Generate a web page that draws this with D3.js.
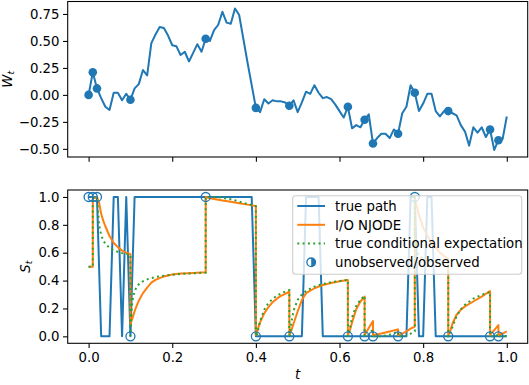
<!DOCTYPE html>
<html><head><meta charset="utf-8">
<script src="https://cdn.jsdelivr.net/npm/d3@7"></script>
<style>body{margin:0;background:#fff} svg{display:block} text{font-family:"DejaVu Sans",sans-serif;fill:#000}</style>
</head><body><svg id="c" width="529" height="385"></svg>
<script>
// ---------- data ----------
const timeStep = 0.01;
const wPath = [0.00, 0.21, 0.06, -0.03, -0.11, -0.14, 0.02, 0.02, -0.05, 0.01,
 -0.045, 0.06, 0.10, 0.23, 0.18, 0.48, 0.56, 0.63, 0.62, 0.55,
 0.46, 0.45, 0.37, 0.40, 0.31, 0.39, 0.47, 0.40, 0.52, 0.50,
 0.60, 0.65, 0.77, 0.67, 0.66, 0.80, 0.74, 0.52, 0.30, 0.09,
 -0.12, -0.16, -0.04, -0.08, -0.05, -0.06, -0.06, -0.07, -0.10, -0.05,
 -0.16, -0.07, 0.03, 0.01, 0.09, 0.02, -0.03, -0.02, -0.04, -0.09,
 -0.15, -0.21, -0.11, -0.31, -0.28, -0.30, -0.23, -0.18, -0.45, -0.40,
 -0.36, -0.36, -0.40, -0.32, -0.36, -0.17, -0.11, 0.09, 0.02, -0.15,
 -0.08, 0.01, 0.01, -0.15, -0.20, -0.15, -0.15, -0.17, -0.19, -0.28,
 -0.34, -0.47, -0.30, -0.35, -0.30, -0.39, -0.32, -0.51, -0.42, -0.41,
 -0.20];
const sPath = [1,1,1,0,0,0,1,1,0,1,
 0,1,1,1,1,1,1,1,1,1,
 1,1,1,1,1,1,1,1,1,1,
 1,1,1,1,1,1,1,1,1,1,
 0,0,0,0,0,0,0,0,0,0,
 0,0,1,1,1,1,0,0,0,0,
 0,0,0,0,0,0,0,0,0,0,
 0,0,0,0,0,0,0,1,1,0,
 0,1,1,0,0,0,0,0,0,0,
 0,0,0,0,0,0,0,0,0,0,
 0];
const obsIndex = [0,1,2,10,28,40,48,62,66,68,74,78,86,96,98];
const predTimes = [0,0.01,0.01,0.02,0.02,0.025,0.03,0.035,0.04,0.05,0.06,0.07,0.08,0.09,0.10,
 0.10,0.1025,0.105,0.11,0.115,0.12,0.13,0.14,0.15,0.16,0.18,0.20,0.22,0.24,0.26,0.28,
 0.28,0.29,0.30,0.32,0.34,0.36,0.38,0.40,
 0.40,0.4025,0.405,0.41,0.42,0.43,0.44,0.45,0.46,0.47,0.48,
 0.48,0.4825,0.485,0.49,0.50,0.51,0.52,0.54,0.56,0.58,0.60,0.62,
 0.62,0.6225,0.625,0.63,0.64,0.65,0.66,
 0.66,0.665,0.67,0.68,
 0.68,0.70,0.72,0.74,
 0.74,0.75,0.76,0.77,0.78,
 0.78,0.7825,0.785,0.79,0.80,0.82,0.84,0.86,
 0.86,0.8625,0.865,0.87,0.88,0.89,0.90,0.92,0.94,0.96,
 0.96,0.97,0.98,
 0.98,0.99,1.00];
const condExp = [0.5,0.5,1,0.98,1,0.80,0.726,0.688,0.664,0.635,0.618,0.606,0.597,0.590,0.584,
 0,0.179,0.258,0.323,0.355,0.373,0.395,0.409,0.418,0.425,0.435,0.442,0.447,0.451,0.454,0.457,
 1,1,1,0.995,0.983,0.967,0.95,0.933,
 0,0.007,0.041,0.109,0.192,0.239,0.269,0.291,0.308,0.321,0.332,
 0,0.036,0.102,0.184,0.262,0.30,0.326,0.357,0.375,0.388,0.397,0.405,
 0,0.014,0.06,0.136,0.218,0.263,0.291,
 0,0.001,0.011,0.052,
 0,0.001,0.012,0.033,
 0,0,0.005,0.019,0.036,
 1,0.655,0.611,0.579,0.556,0.54,0.533,0.528,
 0,0.001,0.017,0.067,0.145,0.193,0.227,0.27,0.298,0.318,
 0,0.001,0.012,
 0,0,0.002];
const njodePred = [0.5,0.5,1,0.99,1,0.96,0.88,0.83,0.79,0.72,0.67,0.64,0.615,0.60,0.59,
 0.09,0.11,0.13,0.18,0.22,0.255,0.31,0.35,0.385,0.405,0.43,0.443,0.45,0.453,0.456,0.46,
 1,0.99,0.985,0.975,0.965,0.955,0.945,0.935,
 0.01,0.03,0.055,0.10,0.165,0.21,0.245,0.27,0.29,0.305,0.32,
 0.01,0.025,0.045,0.09,0.18,0.26,0.31,0.345,0.368,0.383,0.395,0.405,
 0.01,0.025,0.045,0.10,0.195,0.25,0.285,
 0.01,0.035,0.06,0.11,
 0.01,0.02,0.035,0.05,
 0.01,0.02,0.035,0.055,0.07,
 1,0.96,0.93,0.87,0.78,0.67,0.60,0.555,
 0.01,0.02,0.04,0.09,0.155,0.19,0.215,0.25,0.285,0.325,
 0.01,0.045,0.08,
 0.01,0.02,0.035];
const xTicks = [0,0.2,0.4,0.6,0.8,1.0];
const wTicks = [-0.5,-0.25,0,0.25,0.5,0.75];
const sTicks = [0,0.2,0.4,0.6,0.8,1.0];
const legendLabels = ["true path","I/O NJODE","true conditional expectation","unobserved/observed"];

// ---------- styles ----------
const C_BLUE="#1f77b4", C_ORANGE="#ff7f0e", C_GREEN="#2ca02c";
const FS=13.3, TICK=4.67;
const svg=d3.select("#c");

const x=d3.scaleLinear().domain([-0.05,1.05]).range([67.7,527.7]);
const wMin=d3.min(wPath), wMax=d3.max(wPath), wR=wMax-wMin;
const yW=d3.scaleLinear().domain([wMin-0.05*wR,wMax+0.05*wR]).range([157,1.5]);
const yS=d3.scaleLinear().domain([-0.05,1.05]).range([343.3,190]);

const tOf=i=>i*timeStep;

function frame(y){
  const [b,t]=y.range();
  svg.append("rect").attr("x",x.range()[0]).attr("y",t).attr("width",x.range()[1]-x.range()[0]).attr("height",b-t)
    .attr("fill","none").attr("stroke","#000").attr("stroke-width",1.07);
}
function axes(y,yt,yfmt,showX){
  const [b]=y.range();
  const gx=svg.append("g").attr("transform",`translate(0,${b})`)
    .call(d3.axisBottom(x).tickValues(xTicks).tickSize(TICK).tickSizeOuter(0).tickPadding(4.5)
      .tickFormat(showX?d3.format(".1f"):()=>""));
  gx.select(".domain").remove();
  gx.selectAll("line").attr("stroke","#000").attr("stroke-width",1.07);
  gx.selectAll("text").attr("font-size",FS).attr("font-family","DejaVu Sans").attr("fill","#000");
  const gy=svg.append("g").attr("transform",`translate(${x.range()[0]},0)`)
    .call(d3.axisLeft(y).tickValues(yt).tickSize(TICK).tickSizeOuter(0).tickPadding(3.5).tickFormat(d3.format(yfmt)));
  gy.select(".domain").remove();
  gy.selectAll("line").attr("stroke","#000").attr("stroke-width",1.07);
  gy.selectAll("text").attr("font-size",FS).attr("font-family","DejaVu Sans").attr("fill","#000");
}

// ---------- top panel ----------
const wLine=d3.line().x((d,i)=>x(tOf(i))).y(d=>yW(d));
svg.append("path").datum(wPath).attr("d",wLine).attr("fill","none").attr("stroke",C_BLUE).attr("stroke-width",2).attr("stroke-linejoin","round");
svg.append("g").selectAll("circle").data(obsIndex).join("circle")
  .attr("cx",i=>x(tOf(i))).attr("cy",i=>yW(wPath[i])).attr("r",4.3).attr("fill",C_BLUE);
frame(yW);
axes(yW,wTicks,".2f",false);
const lw=svg.append("text").attr("transform",`translate(11.5,${(yW.range()[0]+yW.range()[1])/2}) rotate(-90)`)
  .attr("text-anchor","middle").attr("font-size",FS);
lw.append("tspan").attr("font-style","italic").text("W");
lw.append("tspan").attr("font-style","italic").attr("font-size",FS*0.7).attr("dy",2.5).text("t");

// ---------- bottom panel ----------
const sLine=d3.line().x((d,i)=>x(tOf(i))).y(d=>yS(d));
svg.append("path").datum(sPath).attr("d",sLine).attr("fill","none").attr("stroke",C_BLUE).attr("stroke-width",2).attr("stroke-linejoin","round");
const pLine=vals=>d3.line().x((d,i)=>x(predTimes[i])).y(d=>yS(d))(vals);
svg.append("path").attr("d",pLine(njodePred)).attr("fill","none").attr("stroke",C_ORANGE).attr("stroke-width",2).attr("stroke-linejoin","round");
svg.append("path").attr("d",pLine(condExp)).attr("fill","none").attr("stroke",C_GREEN).attr("stroke-width",2).attr("stroke-dasharray","2,3.3");
svg.append("g").selectAll("circle").data(obsIndex).join("circle")
  .attr("cx",i=>x(tOf(i))).attr("cy",i=>yS(sPath[i])).attr("r",4.5).attr("fill","none").attr("stroke",C_BLUE).attr("stroke-width",1.33);
frame(yS);
axes(yS,sTicks,".1f",true);
const ls=svg.append("text").attr("transform",`translate(29.5,${(yS.range()[0]+yS.range()[1])/2}) rotate(-90)`)
  .attr("text-anchor","middle").attr("font-size",FS);
ls.append("tspan").attr("font-style","italic").text("S");
ls.append("tspan").attr("font-style","italic").attr("font-size",FS*0.7).attr("dy",2.5).text("t");
svg.append("text").attr("x",(x.range()[0]+x.range()[1])/2).attr("y",379).attr("text-anchor","middle")
  .attr("font-size",FS).attr("font-style","italic").text("t");

// ---------- legend ----------
const lg=svg.append("g");
lg.append("rect").attr("x",292.7).attr("y",195.7).attr("width",229).attr("height",78.6).attr("rx",3)
  .attr("fill","#fff").attr("fill-opacity",0.8).attr("stroke","#cccccc").attr("stroke-width",1.07);
const rowY=[206,224.8,243.5,262.3];
legendLabels.forEach((lab,k)=>{
  const y=rowY[k];
  if(k<3){
    const l=lg.append("line").attr("x1",297.3).attr("x2",325).attr("y1",y).attr("y2",y).attr("stroke-width",2)
      .attr("stroke",[C_BLUE,C_ORANGE,C_GREEN][k]);
    if(k===2) l.attr("stroke-dasharray","2,3.3");
  } else {
    const cx=311.2, r=4.3;
    lg.append("circle").attr("cx",cx).attr("cy",y).attr("r",r).attr("fill","#fff").attr("stroke",C_BLUE).attr("stroke-width",1.33);
    lg.append("path").attr("d",`M${cx},${y-r} A${r},${r} 0 0 1 ${cx},${y+r} Z`).attr("fill",C_BLUE);
  }
  lg.append("text").attr("x",335).attr("y",y).attr("dy","0.36em").attr("font-size",FS).text(lab);
});
</script></body></html>
